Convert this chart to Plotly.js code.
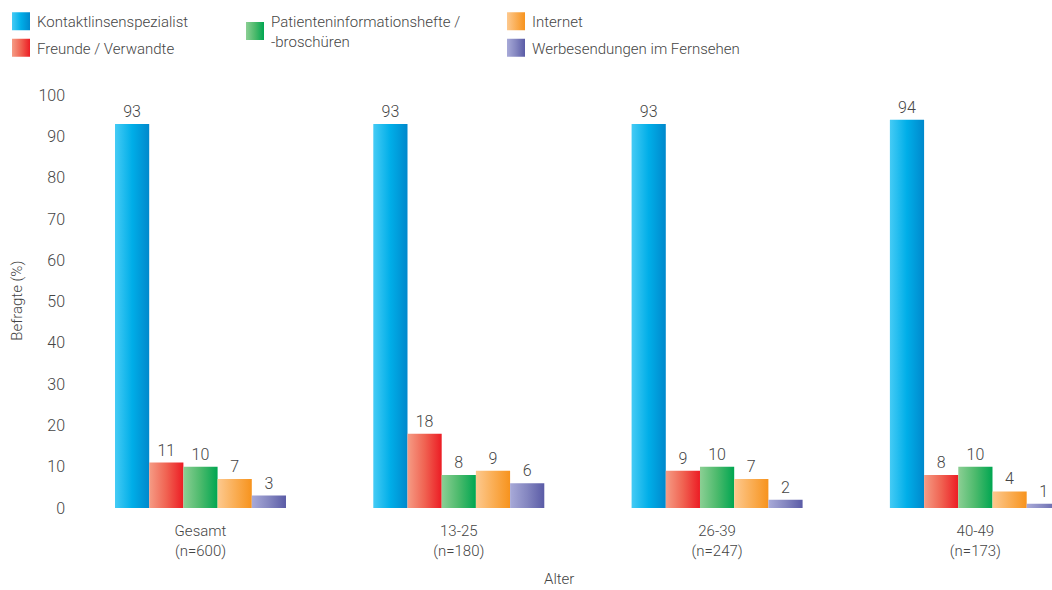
<!DOCTYPE html>
<html>
<head>
<meta charset="utf-8">
<script src="https://cdn.plot.ly/plotly-3.0.1.min.js"></script>
<style>
  html, body { margin: 0; padding: 0; background: #fff; }
  #chart { width: 1052px; height: 590px; }
</style>
</head>
<body>
<div id="chart"></div>
<script>
// Age groups (category labels on the x axis)
var categories = ['Gesamt<br>(n=600)', '13-25<br>(n=180)', '26-39<br>(n=247)', '40-49<br>(n=173)'];

// Share of respondents (%) per information source
var kontaktlinsenspezialist = [93, 93, 93, 94];
var freundeVerwandte        = [11, 18, 9, 8];
var patientenBroschueren    = [10, 8, 10, 10];
var internet                = [7, 9, 7, 4];
var werbesendungen          = [3, 6, 2, 1];

var seriesNames = [
  'Kontaktlinsenspezialist',
  'Freunde / Verwandte',
  'Patienteninformationshefte /<br>-broschüren',
  'Internet',
  'Werbesendungen im Fernsehen'
];
var seriesValues = [kontaktlinsenspezialist, freundeVerwandte, patientenBroschueren, internet, werbesendungen];
var seriesLegends = ['legend', 'legend', 'legend2', 'legend3', 'legend3'];

var xTitle = 'Alter';
var yTitle = 'Befragte (%)';

// light (left) -> dark (right) colour for each series
var gradients = [
  ['#45cbf5', '#00aee8', '#0088cc'],
  ['#f59c85', '#f06352', '#ec1c24'],
  ['#8ccf94', '#4cba6c', '#00a651'],
  ['#fdc98f', '#faae55', '#f7931d'],
  ['#a8aad8', '#8486c0', '#5a5ba6']
];

var textColor = '#454545';
var fontFamily = 'Roboto, "Liberation Sans", Arial, sans-serif';
var titleFont = { family: fontFamily, size: 15, color: textColor, weight: 300 };

var traces = seriesValues.map(function (vals, i) {
  return {
    type: 'bar',
    name: seriesNames[i],
    x: categories,
    y: vals,
    text: vals.map(String),
    textposition: 'outside',
    constraintext: 'none',
    cliponaxis: false,
    textfont: { family: fontFamily, size: 16, color: textColor, weight: 300 },
    marker: { color: gradients[i][1], line: { width: 0 } },
    legend: seriesLegends[i],
    legendgroup: 'g' + i,
    hoverinfo: 'none'
  };
});

var legendBase = {
  xref: 'container', yref: 'container',
  xanchor: 'left', yanchor: 'top',
  bgcolor: 'rgba(0,0,0,0)', borderwidth: 0,
  font: { family: fontFamily, size: 15, color: textColor, weight: 300 },
  tracegroupgap: 4
};

var legendTop = 1 - 5 / 590;

var layout = {
  width: 1052, height: 590,
  margin: { l: 66, r: 0, t: 95, b: 82, autoexpand: false },
  paper_bgcolor: '#fff', plot_bgcolor: '#fff',
  font: { family: fontFamily, color: textColor, weight: 300 },
  barmode: 'group',
  bargap: 0.338,
  bargroupgap: 0,
  showlegend: true,
  legend: Object.assign({}, legendBase, { x: 0, y: legendTop }),
  legend2: Object.assign({}, legendBase, { x: 231 / 1052, y: legendTop }),
  legend3: Object.assign({}, legendBase, { x: 492 / 1052, y: legendTop }),
  xaxis: {
    type: 'category',
    range: [-0.5207, 3.2966],
    showgrid: false, zeroline: false, showline: false, ticks: '',
    ticklabelstandoff: 12,
    tickfont: { family: fontFamily, size: 15, color: textColor, weight: 300 },
    fixedrange: true
  },
  yaxis: {
    range: [0, 100],
    dtick: 10,
    showgrid: false, zeroline: false, showline: false, ticks: '',
    tickfont: { family: fontFamily, size: 16, color: textColor, weight: 300 },
    fixedrange: true
  },
  annotations: [
    { text: xTitle, xref: 'paper', yref: 'paper', x: 0.5, y: -0.172,
      xanchor: 'center', yanchor: 'middle', showarrow: false, font: titleFont },
    { text: yTitle, xref: 'paper', yref: 'paper', x: -0.0492, y: 0.503, textangle: -90,
      xanchor: 'center', yanchor: 'middle', showarrow: false, font: titleFont }
  ]
};

function applyGradients(gd) {
  var svg = gd.querySelector('svg.main-svg');
  var ns = 'http://www.w3.org/2000/svg';
  var defs = svg.querySelector('defs');
  if (!defs) { defs = document.createElementNS(ns, 'defs'); svg.insertBefore(defs, svg.firstChild); }
  gradients.forEach(function (stops, i) {
    var id = 'barfill' + i;
    if (document.getElementById(id)) return;
    var lg = document.createElementNS(ns, 'linearGradient');
    lg.setAttribute('id', id);
    lg.setAttribute('x1', '0'); lg.setAttribute('y1', '0');
    lg.setAttribute('x2', '1'); lg.setAttribute('y2', '0');
    stops.forEach(function (c, k) {
      var s = document.createElementNS(ns, 'stop');
      s.setAttribute('offset', (k / (stops.length - 1) * 100) + '%');
      s.setAttribute('stop-color', c);
      lg.appendChild(s);
    });
    defs.appendChild(lg);
  });

  // bars
  var barTraces = gd.querySelectorAll('.barlayer .trace');
  barTraces.forEach(function (g, i) {
    g.querySelectorAll('path').forEach(function (p) { p.style.fill = 'url(#barfill' + i + ')'; });
  });

  // legend symbols: 18px squares with the same gradient
  gd.querySelectorAll('g.traces').forEach(function (g) {
    var d = g.__data__;
    var tr = d && d[0] && (d[0].trace || (d[0][0] && d[0][0].trace));
    if (!tr) return;
    var idx = tr.index;
    g.querySelectorAll('.legendpoints path').forEach(function (p) {
      p.setAttribute('d', 'M-5,-9H13V9H-5Z');
      p.style.fill = 'url(#barfill' + idx + ')';
      p.style.stroke = 'none';
    });
  });

  // first legend column sits flush against the left edge
  var leg1 = gd.querySelector('.infolayer > g.legend');
  if (leg1) {
    var m = /translate\(([-\d.]+)[ ,]+([-\d.]+)\)/.exec(leg1.getAttribute('transform') || '');
    if (m) leg1.setAttribute('transform', 'translate(' + (parseFloat(m[1]) - 3) + ',' + m[2] + ')');
  }
}

var gd = document.getElementById('chart');
Plotly.newPlot(gd, traces, layout, { displayModeBar: false, staticPlot: true }).then(function () {
  applyGradients(gd);
});
</script>
</body>
</html>
